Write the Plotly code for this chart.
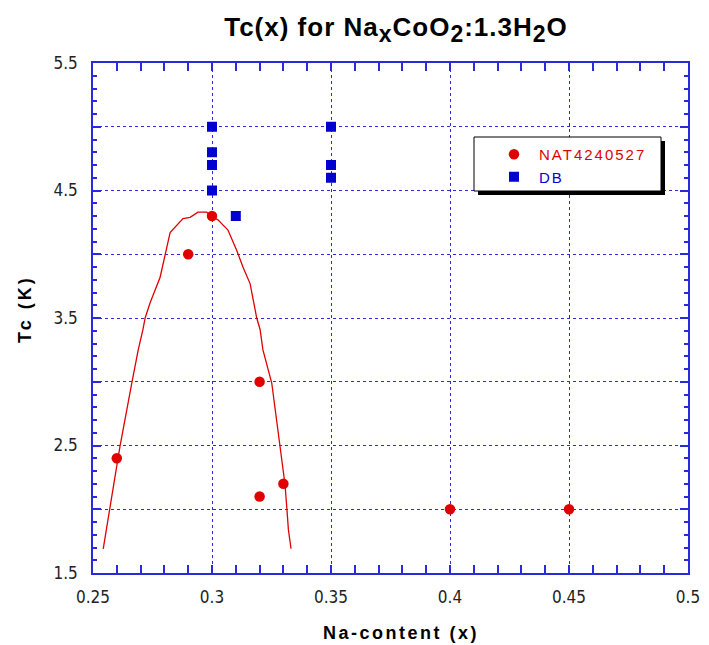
import plotly.graph_objects as go

# Data
nat_x = [0.26, 0.29, 0.30, 0.32, 0.32, 0.33, 0.40, 0.45]
nat_y = [2.4, 4.0, 4.3, 3.0, 2.1, 2.2, 2.0, 2.0]
db_x = [0.30, 0.30, 0.30, 0.30, 0.31, 0.35, 0.35, 0.35]
db_y = [5.0, 4.8, 4.7, 4.5, 4.3, 5.0, 4.7, 4.6]
fit_x = [0.2543, 0.2600, 0.2613, 0.2663, 0.2690, 0.2710, 0.2719, 0.2740, 0.2782,
         0.2824, 0.2878, 0.2908, 0.2941, 0.2978, 0.3004, 0.3025, 0.3067, 0.3104,
         0.3130, 0.3160, 0.3188, 0.3202, 0.3214, 0.3251, 0.3286, 0.3307, 0.3314,
         0.3321, 0.3332]
fit_y = [1.69, 2.36, 2.49, 2.99, 3.25, 3.41, 3.50, 3.62, 3.82,
         4.17, 4.28, 4.29, 4.33, 4.33, 4.29, 4.27, 4.19, 4.03,
         3.90, 3.77, 3.50, 3.41, 3.25, 2.99, 2.49, 2.19, 2.02,
         1.84, 1.69]
y_labeled_ticks = [1.5, 2.5, 3.5, 4.5, 5.5]
y_labels = ["1.5", "2.5", "3.5", "4.5", "5.5"]
y_unlabeled_ticks = [2.0, 3.0, 4.0, 5.0]
x_ticks = [0.25, 0.3, 0.35, 0.4, 0.45, 0.5]
x_labels = ["0.25", "0.3", "0.35", "0.4", "0.45", "0.5"]

RED = "#e00000"
BLUE = "#0000d0"
AXC = "#2a2ad8"
TICKFONT = dict(family="DejaVu Sans Condensed, Liberation Sans Narrow, Liberation Sans, Arial",
                size=17, color="#222222")
BOLD = "Liberation Sans, Arial"
LS = "letter-spacing:2px"

fig = go.Figure()
fig.add_trace(go.Scatter(x=fit_x, y=fit_y, mode="lines", line=dict(color=RED, width=1.3),
                         showlegend=False, hoverinfo="skip", yaxis="y2"))
fig.add_trace(go.Scatter(x=nat_x, y=nat_y, mode="markers",
                         name="<span style='color:%s;%s'>NAT4240527</span>" % (RED, LS),
                         marker=dict(symbol="circle", size=10.5, color=RED)))
fig.add_trace(go.Scatter(x=db_x, y=db_y, mode="markers",
                         name="<span style='color:%s;%s'>DB</span>" % (BLUE, LS),
                         marker=dict(symbol="square", size=10, color=BLUE)))

# The page is drawn with an 8px body margin; figure coords = page coords - 8
OFF = 8
W, H = 709 - OFF, 645 - OFF
ml, mt = 93 - OFF, 63 - OFF
pw, ph = 595, 510
mr, mb = W - ml - pw, H - mt - ph
def px(x): return (x - 93) / pw       # page x -> paper fraction
def py(y): return 1 - (y - 63) / ph   # page y -> paper fraction

# legend frame with drop shadow
fig.add_shape(type="rect", xref="paper", yref="paper",
              x0=px(478), x1=px(665), y0=py(195), y1=py(141),
              fillcolor="black", line=dict(width=0), layer="above")
fig.add_shape(type="rect", xref="paper", yref="paper",
              x0=px(474), x1=px(661), y0=py(191), y1=py(137),
              fillcolor="white", line=dict(color="black", width=1), layer="above")

axis_common = dict(showline=True, linecolor=AXC, linewidth=1.5, mirror="allticks",
                   ticks="inside", ticklen=8, tickcolor=AXC, tickwidth=1.5,
                   showgrid=True, gridcolor=AXC, griddash="dot", gridwidth=1,
                   zeroline=False, automargin=False, tickfont=TICKFONT)

fig.update_layout(
    xaxis=dict(range=[0.25, 0.5], tickmode="array", tickvals=x_ticks, ticktext=x_labels,
               ticklabelstandoff=8,
               minor=dict(dtick=0.01, tick0=0.25, ticks="inside", ticklen=4, tickcolor=AXC, showgrid=False),
               **axis_common),
    yaxis=dict(range=[1.5, 5.5], tickmode="array", tickvals=y_labeled_ticks, ticktext=y_labels,
               ticklabelstandoff=10,
               minor=dict(dtick=0.1, tick0=1.5, ticks="inside", ticklen=4, tickcolor=AXC, showgrid=False),
               **axis_common),
    yaxis2=dict(range=[1.5, 5.5], overlaying="y", side="left", tickmode="array",
                tickvals=y_unlabeled_ticks, showticklabels=False,
                showline=True, linecolor=AXC, linewidth=1.5, mirror="allticks",
                ticks="inside", ticklen=8, tickcolor=AXC, tickwidth=1.5,
                showgrid=True, gridcolor=AXC, griddash="dot", gridwidth=1,
                zeroline=False, automargin=False),
)

# axis titles
fig.add_annotation(text="<b><span style='letter-spacing:2.5px'>Na-content (x)</span></b>",
                   xref="paper", yref="paper", x=px(401), y=py(633),
                   xanchor="center", yanchor="middle", showarrow=False,
                   font=dict(family=BOLD, size=18, color="black"))
fig.add_annotation(text="<b><span style='letter-spacing:3px'>Tc (K)</span></b>",
                   xref="paper", yref="paper", x=px(25), y=py(309), textangle=-90,
                   xanchor="center", yanchor="middle", showarrow=False,
                   font=dict(family=BOLD, size=18, color="black"))

SUB = "<sub><span style='font-size:23px'>%s</span></sub>"
fig.update_layout(
    width=W, height=H,
    margin=dict(l=ml, r=mr, t=mt, b=mb),
    paper_bgcolor="white", plot_bgcolor="white",
    title=dict(text="<b><span style='letter-spacing:1px'>Tc(x) for Na" + SUB % "x" + "CoO" + SUB % "2"
                    + ":1.3H" + SUB % "2" + "O</span></b>",
               x=(396 - OFF) / W, xanchor="center", y=1 - 19 / H, yanchor="middle",
               font=dict(family=BOLD, size=26, color="black")),
    legend=dict(x=px(489), y=py(138), xanchor="left", yanchor="top",
                bgcolor="rgba(0,0,0,0)", borderwidth=0, tracegroupgap=0,
                font=dict(family="Liberation Sans, Arial", size=15), itemwidth=40),
    showlegend=True,
)

fig.write_html("out.html")
